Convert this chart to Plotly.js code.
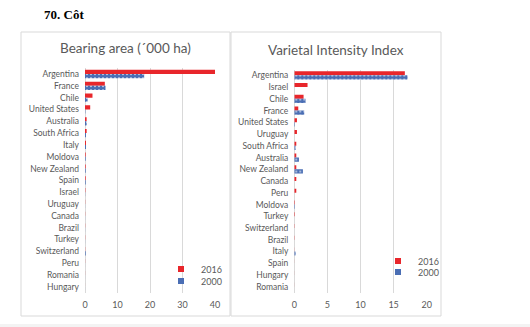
<!DOCTYPE html>
<html><head><meta charset="utf-8">
<script src="https://cdn.plot.ly/plotly-3.0.1.min.js"></script>
<style>html,body{margin:0;padding:0;background:#fff}#c{width:530px;height:327px}</style>
</head><body><div id="c"></div>
<script>
// Left chart: Bearing area ('000 ha)
const areaCountries = ["Argentina","France","Chile","United States","Australia","South Africa","Italy","Moldova","New Zealand","Spain","Israel","Uruguay","Canada","Brazil","Turkey","Switzerland","Peru","Romania","Hungary"];
const area2016 = [40, 6.1, 2.3, 1.6, 0.5, 0.5, 0.3, 0.2, 0.2, 0.2, 0.1, 0.05, 0.05, 0.05, 0.05, 0.05, 0.03, 0.02, 0.01];
const area2000 = [18.2, 6.3, 0.8, 0.1, 0.5, 0.3, 0.3, 0.2, 0.2, 0.2, 0.05, 0.02, 0.02, 0.02, 0.02, 0.2, 0.01, 0.01, 0.01];

// Right chart: Varietal Intensity Index
const viiCountries = ["Argentina","Israel","Chile","France","United States","Uruguay","South Africa","Australia","New Zealand","Canada","Peru","Moldova","Turkey","Switzerland","Brazil","Italy","Spain","Hungary","Romania"];
const vii2016 = [16.7, 2.0, 1.4, 0.6, 0.4, 0.4, 0.3, 0.3, 0.3, 0.3, 0.3, 0.1, 0.1, 0.05, 0.05, 0.02, 0.01, 0.01, 0.01];
const vii2000 = [17.1, 0, 1.7, 1.5, 0.1, 0, 0.2, 0.7, 1.3, 0, 0, 0.1, 0, 0, 0, 0.2, 0, 0, 0];

const seriesNames = ["2016", "2000"];

const RED = "#E8262B", BLUE = "#4A6EB4";
const blueMarker = {color: BLUE, pattern: {shape: ".", fgcolor: "#ffffff", bgcolor: BLUE, size: 4, solidity: 0.15}};

function legendTrace(name, color, legend, xa, ya) {
  return {type:"scatter", mode:"markers", name:name, x:[null], y:[null], xaxis:xa, yaxis:ya,
          marker:{symbol:"square", size:6, color:color}, legend:legend, showlegend:true, hoverinfo:"skip"};
}

const traces = [
  {type:"bar", orientation:"h", name:seriesNames[0], x:area2016, y:areaCountries, xaxis:"x", yaxis:"y", marker:{color:RED}, showlegend:false},
  {type:"bar", orientation:"h", name:seriesNames[1], x:area2000, y:areaCountries, xaxis:"x", yaxis:"y", marker:blueMarker, showlegend:false},
  {type:"bar", orientation:"h", name:seriesNames[0], x:vii2016, y:viiCountries, xaxis:"x2", yaxis:"y2", marker:{color:RED}, showlegend:false},
  {type:"bar", orientation:"h", name:seriesNames[1], x:vii2000, y:viiCountries, xaxis:"x2", yaxis:"y2", marker:blueMarker, showlegend:false},
  legendTrace(seriesNames[0], RED, "legend", "x", "y"),
  legendTrace(seriesNames[1], BLUE, "legend2", "x", "y"),
  legendTrace(seriesNames[0], RED, "legend3", "x2", "y2"),
  legendTrace(seriesNames[1], BLUE, "legend4", "x2", "y2")
];

const W = 530, H = 327;
const px = v => v / W, py = v => 1 - v / H;
const FONT = "Lato, 'Open Sans', sans-serif";
const GRAY = "#595959";

const xCommon = {showgrid:true, gridcolor:"#d9d9d9", gridwidth:1, zeroline:true, zerolinecolor:"#d9d9d9", showline:false, ticks:"", tickfont:{size:9, color:GRAY, family:FONT}, ticklabelstandoff:5, fixedrange:true};
const yCommon = {type:"category", autorange:"reversed", showgrid:false, zeroline:false, showline:false, ticks:"", tickfont:{size:8.5, color:GRAY, family:FONT}, ticklabelstandoff:5};

const legCommon = {xanchor:"left", yanchor:"middle", bgcolor:"rgba(0,0,0,0)", font:{size:9, color:GRAY, family:FONT}, itemwidth:30, tracegroupgap:0, borderwidth:0, itemclick:false};

const layout = {
  width: W, height: H,
  margin: {l:0, r:0, t:0, b:0},
  paper_bgcolor: "#ffffff", plot_bgcolor: "rgba(0,0,0,0)",
  barmode: "group", bargap: 0.3, bargroupgap: 0,
  font: {family: FONT, color: GRAY},
  xaxis: Object.assign({}, xCommon, {domain:[px(85), px(215)], range:[0, 40], tickvals:[0,10,20,30,40], anchor:"y"}),
  yaxis: Object.assign({}, yCommon, {domain:[py(292.6), py(68.1)], anchor:"x"}),
  xaxis2: Object.assign({}, xCommon, {domain:[px(294.3), px(426.7)], range:[0, 20], tickvals:[0,5,10,15,20], anchor:"y2"}),
  yaxis2: Object.assign({}, yCommon, {domain:[py(292.6), py(69.5)], anchor:"x2"}),
  legend: Object.assign({}, legCommon, {x:px(161), y:py(269)}),
  legend2: Object.assign({}, legCommon, {x:px(161), y:py(281)}),
  legend3: Object.assign({}, legCommon, {x:px(378), y:py(261)}),
  legend4: Object.assign({}, legCommon, {x:px(378), y:py(272)}),
  shapes: [
    {type:"rect", xref:"paper", yref:"paper", x0:px(21), x1:px(230), y0:py(316), y1:py(32), line:{color:"#d9d9d9", width:1}, layer:"below"},
    {type:"rect", xref:"paper", yref:"paper", x0:px(231), x1:px(441), y0:py(316), y1:py(32), line:{color:"#d9d9d9", width:1}, layer:"below"},
    {type:"rect", xref:"paper", yref:"paper", x0:0, x1:1, y0:0, y1:py(324), fillcolor:"#f3f3f3", line:{width:0}, layer:"below"}
  ],
  annotations: [
    {text:"<b>70. Côt</b>", xref:"paper", yref:"paper", x:px(42), y:py(15), xanchor:"left", yanchor:"middle", showarrow:false, font:{family:"'Liberation Serif', serif", size:13, color:"#000"}},
    {text:"Bearing area (´000 ha)", xref:"paper", yref:"paper", x:px(125.5), y:py(48), xanchor:"center", yanchor:"middle", showarrow:false, font:{family:FONT, size:13.5, color:GRAY}},
    {text:"Varietal Intensity Index", xref:"paper", yref:"paper", x:px(336), y:py(50), xanchor:"center", yanchor:"middle", showarrow:false, font:{family:FONT, size:13.5, color:GRAY}}
  ]
};

Plotly.newPlot("c", traces, layout, {staticPlot:true, displayModeBar:false});
</script></body></html>
